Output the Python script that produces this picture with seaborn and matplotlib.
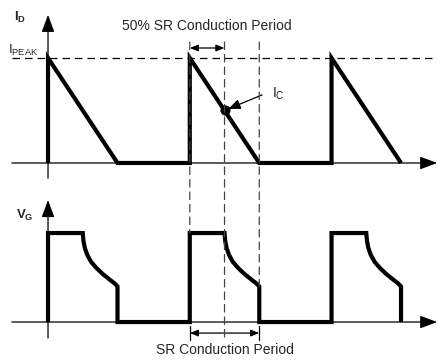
import numpy as np
import pandas as pd
import matplotlib
matplotlib.use("Agg")
import matplotlib.pyplot as plt
from matplotlib.patches import ConnectionPatch
import seaborn as sns

# ---- waveform data (time in units of one SR conduction interval) ----
pulse_starts = [0.0, 2.04, 4.08]          # switching-cycle start times
conduction = 1.0                          # drain-current conduction time
i_peak = 1.0                              # normalised peak drain current
i_c_time = 0.5                            # 50 % point of the conduction period
gate_high = 1.0                           # gate drive level
# gate-voltage droop after the 50 % point (time offset, level)
gate_decay_t = [0.5, 0.51, 0.53, 0.565, 0.62, 0.70, 0.79, 0.885, 0.955, 1.0]
gate_decay_v = [1.0, 0.91, 0.832, 0.754, 0.676, 0.604, 0.538, 0.478, 0.436, 0.40]

title_top = "50% SR Conduction Period"
title_bottom = "SR Conduction Period"

# ---- build the piecewise traces ----
id_t, id_v, vg_t, vg_v = [], [], [], []
for s in pulse_starts:
    id_t += [s, s, s + conduction]
    id_v += [0.0, i_peak, 0.0]
    vg_t += [s, s] + [s + t for t in gate_decay_t] + [s + conduction]
    vg_v += [0.0, gate_high] + gate_decay_v + [0.0]
id_df = pd.DataFrame({"t": id_t, "i": id_v})
vg_df = pd.DataFrame({"t": vg_t, "v": vg_v})

sns.set_theme(style="white")
plt.rcParams["font.family"] = ["Liberation Sans", "DejaVu Sans"]
plt.rcParams["mathtext.fontset"] = "custom"
plt.rcParams["mathtext.rm"] = "Liberation Sans"
plt.rcParams["mathtext.bf"] = "Liberation Sans:bold"

fig = plt.figure(figsize=(4.38, 3.61), dpi=100)
split = 181 / 361
ax1 = fig.add_axes([0, split, 1, 1 - split])
ax2 = fig.add_axes([0, 0, 1, split])
xlim = (-0.691, 5.612)
ax1.set_xlim(*xlim); ax1.set_ylim(-0.162, 1.552)
ax2.set_xlim(*xlim); ax2.set_ylim(-0.438, 1.596)
for ax in (ax1, ax2):
    ax.set_axis_off()

K = "black"
trace_kw = dict(color=K, linewidth=3.0, sort=False, estimator=None,
                solid_joinstyle="miter", solid_capstyle="butt")
axis_arrow = dict(arrowstyle="-|>,head_length=0.75,head_width=0.28",
                  color=K, lw=0.9, shrinkA=0, shrinkB=0, mutation_scale=14)

x_left, x_right = -0.52, 5.60

# ---- drain current panel ----
ax1.annotate("", xy=(x_right, 0), xytext=(x_left, 0), arrowprops=axis_arrow)
ax1.annotate("", xy=(0, 1.41), xytext=(0, -0.145), arrowprops=axis_arrow)
ax1.plot([x_left, x_right], [i_peak, i_peak], color=K, lw=0.9,
         linestyle=(0, (6, 4)))
sns.lineplot(data=id_df, x="t", y="i", ax=ax1, **trace_kw)

cx = pulse_starts[1] + i_c_time
cy = i_peak * (1 - i_c_time / conduction)
sns.scatterplot(x=[cx], y=[cy], ax=ax1, color=K, s=45, edgecolor=K, zorder=5)
ax1.annotate("", xy=(cx, cy), xytext=(3.08, 0.648),
             arrowprops=dict(arrowstyle="-|>,head_length=0.6,head_width=0.25",
                             color=K, lw=0.9, shrinkA=0, shrinkB=3,
                             mutation_scale=12))
ax1.text(3.23, 0.66, r"I$_\mathrm{C}$", fontsize=10, ha="left", va="center")

ax1.text(-0.40, 1.39, r"$\mathbf{I}_\mathbf{D}$", fontsize=9.5,
         ha="center", va="center")
ax1.text(-0.58, 1.075, r"I$_\mathrm{PEAK}$", fontsize=9.5, ha="left",
         va="center")
ax1.text(2.29, 1.305, title_top, fontsize=10, ha="center", va="center")
ax1.annotate("", xy=(cx, 1.095), xytext=(pulse_starts[1], 1.095),
             arrowprops=dict(arrowstyle="<|-|>,head_length=0.5,head_width=0.2",
                             color=K, lw=0.9, shrinkA=0, shrinkB=0,
                             mutation_scale=10))

# ---- gate voltage panel ----
ax2.annotate("", xy=(x_right, 0), xytext=(x_left, 0), arrowprops=axis_arrow)
ax2.annotate("", xy=(0, 1.37), xytext=(0, -0.18), arrowprops=axis_arrow)
sns.lineplot(data=vg_df, x="t", y="v", ax=ax2, **trace_kw)
ax2.text(-0.33, 1.20, r"$\mathbf{V}_\mathbf{G}$", fontsize=9.5,
         ha="center", va="center")

s1 = pulse_starts[1]
y_arrow = -0.124
ax2.annotate("", xy=(s1 + conduction, y_arrow), xytext=(s1, y_arrow),
             arrowprops=dict(arrowstyle="<|-|>,head_length=0.5,head_width=0.2",
                             color=K, lw=0.9, shrinkA=0, shrinkB=0,
                             mutation_scale=10))
for xt in (s1, s1 + conduction):
    ax2.plot([xt, xt], [-0.05, -0.20], color=K, lw=0.9)
ax2.text(s1 + conduction / 2, -0.32, title_bottom, fontsize=10,
         ha="center", va="center")

# ---- dashed guides linking both panels ----
dash = dict(color="#444444", lw=0.9, linestyle=(0, (6, 4)))
guides = [(s1, gate_high), (s1 + i_c_time, -0.17),
          (s1 + conduction, gate_decay_v[-1])]
for xg, yb in guides:
    con = ConnectionPatch(xyA=(xg, 1.152), coordsA=ax1.transData,
                          xyB=(xg, yb), coordsB=ax2.transData, zorder=1, **dash)
    fig.add_artist(con)

fig.savefig("out.png", dpi=100)
